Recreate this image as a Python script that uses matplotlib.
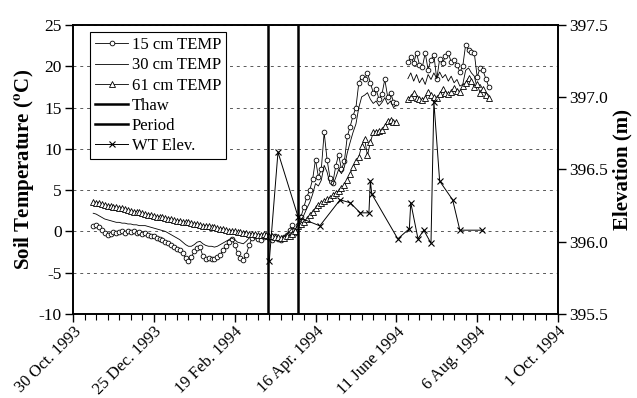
import numpy as np
import matplotlib.pyplot as plt

plt.rcParams['font.family'] = ['Liberation Serif', 'DejaVu Serif']
plt.rcParams['mathtext.fontset'] = 'stix'
plt.rcParams['axes.unicode_minus'] = False

# daily-ish soil temperature readings, every 2 days
seg1_start = np.datetime64('1993-11-13')
seg2_start = np.datetime64('1994-06-19')

temp15_a = [0.7, 0.8, 0.5, 0.2, -0.2, -0.4, -0.3, -0.1, -0.2, -0.1,
            0.0, -0.2, 0.1, -0.1, 0.0, -0.2, -0.1, -0.3, -0.2, -0.4,
            -0.5, -0.6, -0.8, -0.9, -1.1, -1.3, -1.4, -1.6, -1.9, -2.1,
            -2.3, -2.6, -3.2, -3.6, -3.1, -2.4, -2.0, -1.9, -3.0, -3.3,
            -3.2, -3.4, -3.3, -3.1, -2.8, -2.3, -1.8, -1.3, -0.9, -1.6,
            -2.6, -3.2, -3.5, -2.8, -1.7, -0.8, -0.5, -0.9, -1.1, -0.7,
            -0.5, -0.8, -1.0, -0.6, -0.9, -1.1, -0.7, -0.4, 0.2, 0.8,
            -0.2, 0.8, 1.8, 3.0, 4.2, 5.0, 6.3, 8.7, 6.6, 7.5,
            12.0, 8.7, 6.5, 5.9, 7.9, 9.3, 7.5, 8.5, 11.5, 12.7,
            14.0, 15.0, 18.0, 18.7, 18.4, 19.2, 18.0, 16.8, 17.2, 16.0,
            16.6, 18.4, 16.3, 16.8, 15.7, 15.6]
temp30_a = [2.2, 2.1, 1.9, 1.7, 1.5, 1.4, 1.3, 1.2, 1.1, 1.1,
            1.0, 1.0, 0.9, 0.9, 0.8, 0.8, 0.7, 0.7, 0.7, 0.6,
            0.5, 0.4, 0.3, 0.2, 0.1, 0.0, -0.2, -0.4, -0.6, -0.8,
            -1.0, -1.3, -1.6, -1.8, -1.8, -1.6, -1.3, -1.2, -1.5, -1.7,
            -1.8, -1.8, -1.9, -1.8, -1.6, -1.4, -1.2, -1.0, -0.8, -1.0,
            -1.3, -1.4, -1.5, -1.2, -0.8, -0.5, -0.4, -0.5, -0.6, -0.5,
            -0.5, -0.6, -0.7, -0.7, -0.8, -0.8, -0.6, -0.4, 0.0, 0.4,
            0.3, 0.8, 1.3, 2.0, 2.8, 3.5, 4.5, 5.8, 5.5, 6.2,
            8.0, 7.2, 5.8, 5.6, 6.5, 7.5, 7.0, 7.8, 9.5, 10.8,
            12.0, 13.0, 15.0, 16.3, 16.5, 16.8, 16.0, 15.5, 15.8, 15.2,
            15.6, 16.2, 15.4, 15.8, 15.0, 15.3]
temp61_a = [3.6, 3.5, 3.4, 3.3, 3.2, 3.1, 3.1, 3.0, 2.9, 2.8,
            2.8, 2.7, 2.6, 2.5, 2.4, 2.4, 2.3, 2.2, 2.1, 2.0,
            2.0, 1.9, 1.8, 1.8, 1.7, 1.6, 1.5, 1.5, 1.4, 1.3,
            1.3, 1.2, 1.1, 1.1, 1.0, 0.9, 0.9, 0.8, 0.7, 0.7,
            0.6, 0.5, 0.5, 0.4, 0.3, 0.3, 0.2, 0.1, 0.1, 0.0,
            -0.1, -0.1, -0.2, -0.2, -0.3, -0.3, -0.3, -0.4, -0.4, -0.3,
            -0.4, -0.5, -0.6, -0.7, -0.7, -0.8, -0.8, -0.6, -0.5, -0.3,
            0.0, 0.6, 0.9, 1.2, 1.5, 2.0, 2.4, 2.8, 3.2, 3.4,
            3.7, 3.9, 4.1, 4.4, 4.7, 4.9, 5.2, 5.6, 6.2, 7.0,
            7.8, 8.5, 9.0, 10.4, 11.2, 9.2, 10.8, 12.0, 12.1, 12.2,
            12.3, 12.8, 13.4, 13.5, 13.2, 13.3]

temp15_b = [20.5, 21.1, 20.4, 21.6, 20.2, 19.9, 21.6, 19.6, 20.8, 21.4,
            18.4, 20.9, 20.4, 21.2, 21.6, 20.5, 20.8, 20.2, 19.3, 20.0,
            22.6, 22.0, 21.7, 21.6, 18.7, 19.8, 19.5, 18.5, 17.5]
temp30_b = [18.5, 19.2, 18.2, 19.0, 18.0, 18.6, 17.8, 19.0, 18.4, 19.2,
            18.5, 19.3, 18.6, 19.0, 18.2, 18.8, 18.0, 18.4, 17.6, 17.8,
            19.5, 19.8, 19.2, 18.8, 17.4, 17.8, 17.2, 16.8, 16.5]
temp61_b = [16.0, 16.3, 16.8, 16.2, 16.0, 15.9, 16.2, 16.9, 16.5, 16.3,
            16.1, 16.6, 17.2, 16.8, 16.6, 16.9, 17.4, 17.0, 16.9, 17.6,
            18.0, 18.6, 18.2, 17.5, 17.8, 16.8, 17.3, 16.5, 16.2]

wt_dates = ['1994-03-15', '1994-03-21', '1994-04-04', '1994-04-19', '1994-05-03',
            '1994-05-10', '1994-05-17', '1994-05-23', '1994-05-24', '1994-05-25',
            '1994-06-12', '1994-06-20', '1994-06-21', '1994-06-26', '1994-06-30',
            '1994-07-05', '1994-07-07', '1994-07-11', '1994-07-20', '1994-07-25',
            '1994-08-09']
wt_elev = [395.87, 396.62, 396.17, 396.11, 396.29,
           396.27, 396.20, 396.20, 396.42, 396.33,
           396.02, 396.09, 396.27, 396.02, 396.08,
           395.99, 396.97, 396.42, 396.29, 396.08,
           396.08]

thaw_start = np.datetime64('1994-03-14')
thaw_end = np.datetime64('1994-04-04')

tick_dates = ['1993-10-30', '1993-12-25', '1994-02-19', '1994-04-16',
              '1994-06-11', '1994-08-06', '1994-10-01']
tick_labels = ['30 Oct. 1993', '25 Dec. 1993', '19 Feb. 1994', '16 Apr. 1994',
               '11 June 1994', '6 Aug. 1994', '1 Oct. 1994']


def every2(start, vals):
    return start + np.arange(len(vals)) * 2


d1_15 = every2(seg1_start, temp15_a)
d1_30 = every2(seg1_start, temp30_a)
d1_61 = every2(seg1_start, temp61_a)
d2 = every2(seg2_start, temp15_b)

fig = plt.figure(figsize=(6.37, 3.98), dpi=100)
ax = fig.add_axes([0.1146, 0.2111, 0.7614, 0.7261])

kw15 = dict(color='black', lw=0.6, marker='o', ms=3.4, mfc='white', mew=0.6)
kw30 = dict(color='black', lw=0.6)
kw61 = dict(color='black', lw=0.6, marker='^', ms=3.8, mfc='white', mew=0.6)

h15, = ax.plot(d1_15, temp15_a, label='15 cm TEMP', **kw15)
ax.plot(d2, temp15_b, **kw15)
h30, = ax.plot(d1_30, temp30_a, label='30 cm TEMP', **kw30)
ax.plot(d2, temp30_b, **kw30)
h61, = ax.plot(d1_61, temp61_a, label='61 cm TEMP', **kw61)
ax.plot(d2, temp61_b, **kw61)

hthaw = ax.axvline(thaw_start, color='black', lw=1.8, label='Thaw')
hper = ax.axvline(thaw_end, color='black', lw=1.8, label='Period')

ax.set_ylim(-10, 25)
ax.set_yticks(np.arange(-10, 26, 5))
ax.set_xlim(np.datetime64('1993-10-30'), np.datetime64('1994-10-01'))
ax.set_xticks(np.array(tick_dates, dtype='datetime64[D]'))
ax.set_xticklabels(tick_labels, rotation=45, ha='right', rotation_mode='anchor')
ax.set_xticks(np.arange(np.datetime64('1993-10-30'), np.datetime64('1994-10-02'), 8), minor=True)
ax.yaxis.grid(True, linestyle=(0, (3, 4)), color='0.35', lw=0.7)
ax.tick_params(axis='y', which='major', direction='out', labelsize=12.5, length=6, width=1, pad=2)
ax.tick_params(axis='x', which='major', direction='out', labelsize=12, length=6, width=1, pad=1)
ax.tick_params(axis='x', which='minor', direction='out', length=4, width=0.8)
ax.set_ylabel('Soil Temperature ($\\mathbf{^{o}}$C)', fontsize=15, fontweight='bold', labelpad=2)
for s in ax.spines.values():
    s.set_linewidth(1.2)

ax2 = ax.twinx()
hwt, = ax2.plot(np.array(wt_dates, dtype='datetime64[D]'), wt_elev, color='black', lw=0.7,
                marker='x', ms=4, mew=0.8, label='WT Elev.')
ax2.set_ylim(395.5, 397.5)
ax2.set_yticks(np.arange(395.5, 397.6, 0.5))
ax2.set_yticklabels(['%.1f' % v for v in np.arange(395.5, 397.6, 0.5)])
ax2.tick_params(axis='y', direction='out', labelsize=12.5, length=6, width=1, pad=2)
ax2.set_ylabel('Elevation (m)', fontsize=15, fontweight='bold', labelpad=3)
for s in ax2.spines.values():
    s.set_linewidth(1.2)

leg = ax2.legend(handles=[h15, h30, h61, hthaw, hper, hwt], loc='upper left',
                 bbox_to_anchor=(0.035, 0.975), borderaxespad=0, fontsize=12,
                 fancybox=False, framealpha=1, edgecolor='black',
                 handlelength=2.0, handletextpad=0.2, labelspacing=0.25,
                 borderpad=0.3)
leg.get_frame().set_linewidth(0.8)

plt.savefig('out.png', dpi=100)
